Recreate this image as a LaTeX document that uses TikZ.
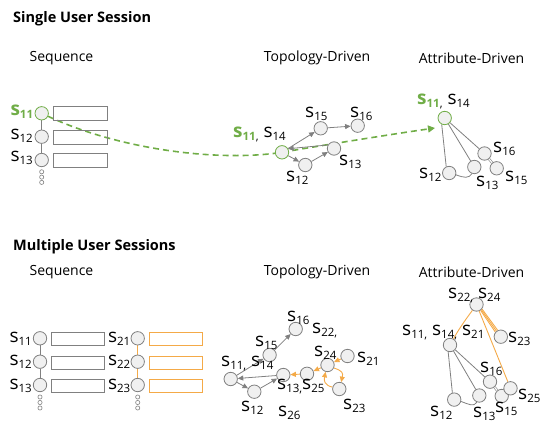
\documentclass[tikz,border=0pt]{standalone}
\usepackage{fontspec}
\setmainfont{Open Sans}
\usetikzlibrary{arrows.meta,backgrounds}
\definecolor{ggreen}{RGB}{112,173,71}
\definecolor{gor}{RGB}{244,170,72}
\definecolor{gline}{RGB}{128,128,128}
\definecolor{gfill}{RGB}{240,240,240}
\newcommand\Sx[1]{s\raisebox{-3pt}{\fontsize{11.5}{11.5}\selectfont #1}}
\newcommand\Gx[1]{\textcolor{ggreen}{\bfseries\Sx{#1}}}
\newcommand\Cm{\raisebox{-3pt}{\fontsize{11.5}{11.5}\selectfont ,}}
\begin{document}
\begin{tikzpicture}[x=1pt,y=-1pt,
 st/.style={circle,draw=gline,fill=gfill,line width=0.8pt,minimum size=13.4pt,inner sep=0pt},
 gst/.style={st,draw=ggreen},
 box/.style={draw=gline,line width=1pt,minimum width=53.4pt,minimum height=13.3pt,inner sep=0pt,anchor=west},
 obox/.style={box,draw=gor},
 tdot/.style={circle,draw=gline,fill=white,line width=0.6pt,minimum size=4.2pt,inner sep=0pt},
 lb/.style={font=\fontsize{19}{19}\selectfont,inner sep=0pt,anchor=west},
 lbe/.style={lb,anchor=east},
 hd/.style={font=\bfseries\fontsize{14.5}{14.5}\selectfont,inner sep=0pt,anchor=west},
 sh/.style={font=\fontsize{14}{14}\selectfont,inner sep=0pt},
 ge/.style={draw=gline,line width=0.8pt},
 ga/.style={ge,-{Triangle[length=5.5pt,width=5pt]}},
 oe/.style={draw=gor,line width=0.9pt},
 oa/.style={oe,-{Triangle[length=5.5pt,width=5pt]}},
 dbl/.style={draw=gline,line width=0.6pt,double=white,double distance=1.2pt},
 gd/.style={draw=ggreen,line width=1.6pt,dash pattern=on 6pt off 4pt,-{Triangle[length=7pt,width=7pt]}}
]
\useasboundingbox (0,0) rectangle (556,433);

% headings
\node[hd] (h1) at (13,19) {Single User Session};
\node[hd] (h2) at (13,247) {Multiple User Sessions};
\node[sh] (q1) at (61.5,58) {Sequence};
\node[sh] (tp1) at (317,58) {Topology-Driven};
\node[sh] (at1) at (471.5,58) {Attribute-Driven};
\node[sh] (q2) at (61.5,272) {Sequence};
\node[sh] (tp2) at (317,272) {Topology-Driven};
\node[sh] (at2) at (471.5,272) {Attribute-Driven};

% ---------- top sequence
\node[gst] (a11) at (41.7,113.3) {};
\node[st] (a12) at (41.7,136.7) {};
\node[st] (a13) at (41.7,160) {};
\node[tdot] (ad1) at (41.7,171.8) {};
\node[tdot] (ad2) at (41.7,177.1) {};
\node[tdot] (ad3) at (41.7,182.4) {};
\node[box] (r11) at (53.3,113.5) {};
\node[box] (r12) at (53.3,137.5) {};
\node[box] (r13) at (53.3,160.5) {};
\node[lbe] (l11) at (33.3,112) {\Gx{11}};
\node[lbe] (l12) at (33,136) {\Sx{12}};
\node[lbe] (l13) at (33,158) {\Sx{13}};

% ---------- bottom sequence
\node[st] (b11) at (40,338.3) {};
\node[st] (b12) at (40,361.7) {};
\node[st] (b13) at (40,385) {};
\node[tdot] (bd1) at (40,397) {};
\node[tdot] (bd2) at (40,402.5) {};
\node[tdot] (bd3) at (40,408) {};
\node[box] (rb11) at (51,339.3) {};
\node[box] (rb12) at (51,362.7) {};
\node[box] (rb13) at (51,386) {};
\node[lbe] (lb11) at (32,339) {\Sx{11}};
\node[lbe] (lb12) at (32,362) {\Sx{12}};
\node[lbe] (lb13) at (32,385.5) {\Sx{13}};
\node[st] (c21) at (137.7,338.3) {};
\node[st] (c22) at (137.7,361.7) {};
\node[st] (c23) at (137.7,385) {};
\node[tdot] (cd1) at (137.7,397) {};
\node[tdot] (cd2) at (137.7,402.5) {};
\node[tdot] (cd3) at (137.7,408) {};
\node[obox] (rc21) at (149,339.3) {};
\node[obox] (rc22) at (149,362.7) {};
\node[obox] (rc23) at (149,386) {};
\node[lbe] (lc21) at (130.5,339) {\Sx{21}};
\node[lbe] (lc22) at (130.5,362) {\Sx{22}};
\node[lbe] (lc23) at (130.5,385.5) {\Sx{23}};

% ---------- top topology
\node[gst] (t14) at (282,152.3) {};
\node[st] (t15) at (320.7,128.3) {};
\node[st] (t16) at (357.7,125.7) {};
\node[st] (t13) at (334,148.5) {};
\node[st] (t12) at (305.3,165) {};
\coordinate (dend) at (435,128);
\node[lb] (lt14) at (233,134) {\Gx{11}\Cm\ \Sx{14}};
\node[lb] (lt15) at (305,114) {\Sx{15}};
\node[lb] (lt16) at (350,113.5) {\Sx{16}};
\node[lb] (lt13) at (339,162) {\Sx{13}};
\node[lb] (lt12) at (286,178) {\Sx{12}};

% ---------- top attribute
\node[gst] (at14) at (444.7,118) {};
\node[st] (at16) at (484.5,153.5) {};
\node[st] (at12) at (449.2,173) {};
\node[st] (at13) at (474.3,167) {};
\node[st] (at15) at (496.7,168.3) {};
\node[lb] (lat14) at (417,101.5) {\Gx{11}\Cm\ \Sx{14}};
\node[lb] (lat16) at (493,149) {\Sx{16}};
\node[lb] (lat12) at (419,175) {\Sx{12}};
\node[lb] (lat13) at (476,182.5) {\Sx{13}};
\node[lb] (lat15) at (505,178) {\Sx{15}};

% ---------- bottom topology
\node[st] (bt14) at (230.7,379) {};
\node[st] (bt12) at (254.3,391.7) {};
\node[st] (bt13) at (283.3,375) {};
\node[st] (bt25) at (307,373.8) {};
\node[st] (bt24) at (327.5,365) {};
\node[st] (bt21) at (347.5,356) {};
\node[st] (bt23) at (339.3,389) {};
\node[st] (bt15) at (269.6,355) {};
\node[st] (bt16) at (295.7,329) {};
\node[lb] (lbt16) at (287,317.5) {\Sx{16}};
\node[lb] (lbt22) at (312,331) {\Sx{22}\Cm};
\node[lb] (lbt15) at (255,342.5) {\Sx{15}};
\node[lb] (lbt24) at (314,353) {\Sx{24}};
\node[lb] (lbt21) at (357,359) {\Sx{21}};
\node[lb] (lbt14) at (221,364) {\Sx{11}\Cm\ \Sx{14}};
\node[lb] (lbt13) at (277,387) {\Sx{13}\Cm\Sx{25}};
\node[lb] (lbt23) at (343,406) {\Sx{23}};
\node[lb] (lbt12) at (241,407.5) {\Sx{12}};
\node[lb] (lbt26) at (278,412.5) {\Sx{26}};

% ---------- bottom attribute
\node[st] (ab24) at (476.5,304.5) {};
\node[st] (ab23) at (500.8,336.7) {};
\node[st] (ab14) at (450,345) {};
\node[st] (ab16) at (490,381.7) {};
\node[st] (ab13) at (479.3,395.5) {};
\node[st] (ab15) at (501.7,396) {};
\node[st] (ab25) at (510.5,388.3) {};
\node[st] (ab12) at (454.2,399.6) {};
\node[lb] (lab24) at (448,296) {\Sx{22}\Cm\ \Sx{24}};
\node[lb] (lab14) at (402,332.5) {\Sx{11}\Cm\ \Sx{14}\Cm\ \Sx{21}};
\node[lb] (lab23) at (508,339) {\Sx{23}};
\node[lb] (lab16) at (480,369) {\Sx{16}};
\node[lb] (lab25) at (518,396) {\Sx{25}};
\node[lb] (lab12) at (430,412.5) {\Sx{12}};
\node[lb] (lab13) at (473,414) {\Sx{13}};
\node[lb] (lab15) at (495,409) {\Sx{15}};

\begin{pgfonlayer}{background}
% sequence lines
\draw[ge] (a11) -- (a12) -- (a13);
\draw[ge] (b11) -- (b12) -- (b13);
\draw[oe] (c21) -- (c22) -- (c23);
% dashed green
\draw[gd] (a11) .. controls (120,150) and (220,162) .. (t14.center) .. controls (330,144) and (400,133) .. (dend);
% top topology
\draw[ga] (t14) -- (t12);
\draw[ga] (t12) -- (t13);
\draw[ga] (t13.150) -- (t14.30);
\draw[ga] (t14) -- (t15);
\draw[ga] (t15) -- (t16);
% top attribute
\draw[ge] (at14.245) -- (at12.115);
\draw[ge] (at14) -- (at13);
\draw[ge] (at14) -- (at16);
\draw[ge] (at12.-15) .. controls +(8,3) and +(-3,5) .. (at13.-110);
\draw[dbl] (at16) -- (at15);
% bottom topology
\draw[ga] (bt14) -- (bt12);
\draw[ga] (bt12) -- (bt13);
\draw[ga] (bt13) -- (bt14);
\draw[ga] (bt14) -- (bt15);
\draw[ga] (bt15) -- (bt16);
\draw[oa] (bt21) -- (bt24);
\draw[oa] (bt24) -- (bt25);
\draw[oa] (bt25) -- (bt13);
\draw[oa] (bt24.-25) .. controls +(9,3) and +(2,-9) .. (bt23.75);
\draw[oa] (bt23.165) .. controls +(-8,-2) and +(-2,9) .. (bt24.-105);
% bottom attribute
\draw[oe] (ab24.235) .. controls +(-6,8) and +(4,-8) .. (ab14.60);
\draw[oe] (ab24.-55) -- (ab23.140);
\draw[oe] (ab24.-47) -- (ab23.128);
\draw[oe] (ab24.-39) -- (ab23.116);
\draw[oe] (ab24) -- (ab25);
\draw[ge] (ab14.255) -- (ab12.105);
\draw[ge] (ab14) -- (ab13);
\draw[ge] (ab14) -- (ab16);
\draw[ge] (ab12.-15) .. controls +(8,3) and +(-3,5) .. (ab13.-110);
\draw[dbl] (ab16) -- (ab15);
\end{pgfonlayer}
\end{tikzpicture}
\end{document}
